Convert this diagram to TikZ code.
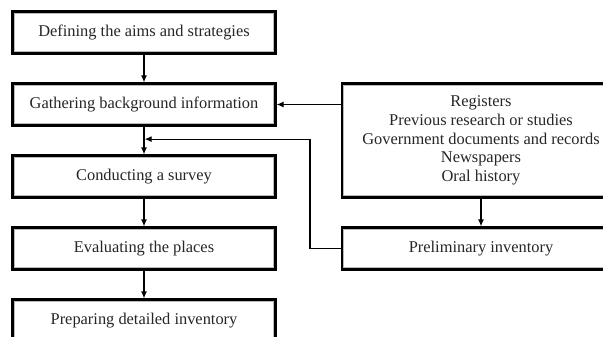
\documentclass[tikz,border=0pt]{standalone}
\usepackage{fontspec}
\setmainfont{Liberation Serif}
\usetikzlibrary{arrows.meta, calc}
\tikzstyle{line} = [draw, line width=1.2pt, -{Latex[length=7pt,width=6pt]}]
\tikzstyle{block} = [rectangle, draw=black, line width=2.2pt, fill=white,
  text=black!85, align=center, inner sep=0pt,
  minimum width=263pt, minimum height=42pt,
  font=\fontsize{16.4}{18.7}\selectfont,
  path picture={\draw[gray!55, line width=1pt]
    ([shift={(1.7pt,-1.7pt)}]path picture bounding box.north west) rectangle
    ([shift={(-1.7pt,1.7pt)}]path picture bounding box.south east);}]
\tikzstyle{wide block} = [block, minimum width=278pt]

\begin{document}
\begin{tikzpicture}[x=1pt, y=1pt, node distance=72pt]
  \clip (0,0) rectangle (603,-337);
  \node [block] at (144,-32.5) (aims) {Defining the aims and strategies};
  \node [block, below of=aims] (gather) {Gathering background information};
  \node [block, below of=gather] (survey) {Conducting a survey};
  \node [block, below of=survey] (evaluate) {Evaluating the places};
  \node [block, below of=evaluate] (prepare) {Preparing detailed inventory};

  \node [wide block, right of=evaluate, node distance=337pt] (prelim) {Preliminary inventory};
  \node [wide block, above of=prelim, node distance=108pt, minimum height=114pt] (sources)
    {Registers\\Previous research or studies\\Government documents and records\\Newspapers\\Oral history};

  \coordinate (join) at ($(gather.south)!0.45!(survey.north)$);

  \path [line] (aims) -- (gather);
  \path [line] (gather) -- (survey);
  \path [line] (survey) -- (evaluate);
  \path [line] (evaluate) -- (prepare);
  \path [line] (sources.west |- gather) -- (gather.east);
  \path [line] (sources) -- (prelim);
  \path [line, shorten >=0.6pt] (prelim.west) -- ++(-31pt,0) |- (join);
\end{tikzpicture}
\end{document}
